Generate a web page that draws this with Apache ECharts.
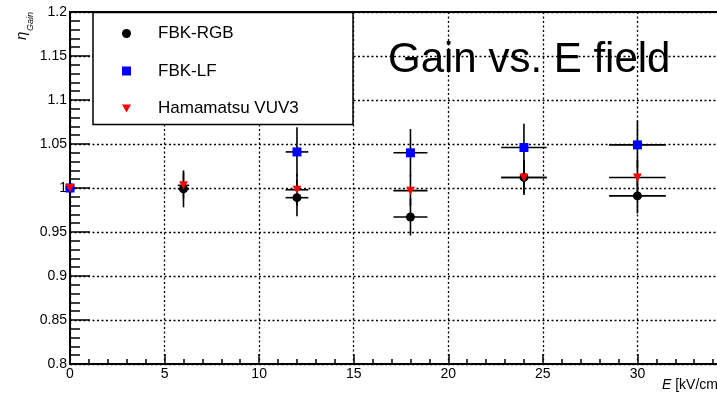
<!DOCTYPE html>
<html>
<head>
<meta charset="utf-8">
<script src="https://cdn.jsdelivr.net/npm/echarts@6/dist/echarts.min.js"></script>
<style>
html,body{margin:0;padding:0;background:#fff;}
#chart{width:717px;height:397px;}
</style>
</head>
<body>
<div id="chart"></div>
<script>
// ---- data ----
var energies = [0, 6, 12, 18, 24, 30];          // E [kV/cm]
var energyErr = [0, 0.3, 0.6, 0.9, 1.2, 1.5];   // x error
var rgbGain = [1.0, 0.999, 0.989, 0.967, 1.012, 0.991];
var rgbErr  = [0, 0.021, 0.021, 0.021, 0.020, 0.020];
var lfGain  = [1.0, null, 1.041, 1.040, 1.046, 1.049];
var lfErr   = [0, null, 0.028, 0.027, 0.027, 0.027];
var vuvGain = [1.0, 1.003, 0.998, 0.997, 1.012, 1.012];
var vuvErr  = [0, 0.015, 0.018, 0.018, 0.018, 0.020];
var seriesNames = ['FBK-RGB', 'FBK-LF', 'Hamamatsu VUV3'];
var xTicks = [0, 5, 10, 15, 20, 25, 30, 35];
var yTicks = ['0.8', '0.85', '0.9', '0.95', '1', '1.05', '1.1', '1.15', '1.2'];

var FONT = '"Liberation Sans", Arial, Helvetica, sans-serif';

function build(vals, errs) {
  var pts = [], bars = [];
  for (var i = 0; i < energies.length; i++) {
    if (vals[i] === null) continue;
    pts.push([energies[i], vals[i]]);
    bars.push([energies[i], vals[i], energyErr[i], errs[i]]);
  }
  return {pts: pts, bars: bars};
}
var rgb = build(rgbGain, rgbErr);
var lf = build(lfGain, lfErr);
var vuv = build(vuvGain, vuvErr);

function renderErr(params, api) {
  var x = api.value(0), y = api.value(1), ex = api.value(2), ey = api.value(3);
  var l = api.coord([x - ex, y]), r = api.coord([x + ex, y]);
  var t = api.coord([x, y + ey]), b = api.coord([x, y - ey]);
  var st = {stroke: '#000', lineWidth: 1.6};
  return {type: 'group', children: [
    {type: 'line', shape: {x1: l[0], y1: l[1], x2: r[0], y2: r[1]}, style: st},
    {type: 'line', shape: {x1: t[0], y1: t[1], x2: b[0], y2: b[1]}, style: st}
  ]};
}

var triDown = 'path://M0,0 L10,0 L5,9 Z';

var chart = echarts.init(document.getElementById('chart'), null, {renderer: 'canvas'});
var gridLine = {show: true, lineStyle: {color: '#000', width: 1.3, type: [2, 2.5]}};
chart.setOption({
  backgroundColor: '#fff',
  animation: false,
  textStyle: {fontFamily: FONT},
  grid: {left: 70, right: -15, top: 12, bottom: 33, show: true,
         containLabel: false, outerBoundsMode: 'none',
         borderColor: '#000', borderWidth: 2, backgroundColor: 'transparent'},
  xAxis: {
    type: 'value', min: xTicks[0], max: xTicks[xTicks.length - 1], interval: 5,
    axisLine: {show: true, onZero: false, lineStyle: {color: '#000', width: 2}},
    axisTick: {show: true, inside: true, length: 10, lineStyle: {color: '#000', width: 1.5}},
    minorTick: {show: true, splitNumber: 5, length: 5, lineStyle: {color: '#000', width: 1.5}},
    axisLabel: {color: '#000', fontSize: 14, margin: 3, fontFamily: FONT},
    splitLine: gridLine
  },
  yAxis: {
    type: 'value', min: 0.8, max: 1.2, interval: 0.05,
    axisLine: {show: true, onZero: false, lineStyle: {color: '#000', width: 2}},
    axisTick: {show: true, inside: true, length: 20, lineStyle: {color: '#000', width: 1.5}},
    minorTick: {show: true, splitNumber: 5, length: 10, lineStyle: {color: '#000', width: 1.5}},
    axisLabel: {color: '#000', fontSize: 14, margin: 3, fontFamily: FONT,
      formatter: function (v) { return yTicks[Math.round((v - 0.8) / 0.05)]; }},
    splitLine: gridLine
  },
  legend: {
    data: seriesNames, orient: 'vertical', left: 117, top: 20, itemGap: 20.5,
    itemWidth: 9, itemHeight: 9, z: 20,
    itemStyle: {opacity: 1},
    textStyle: {color: '#000', fontSize: 17, fontFamily: FONT, padding: [0, 0, 0, 22]}
  },
  graphic: [
    {type: 'rect', z: 15, shape: {x: 93, y: 12.5, width: 260, height: 112},
     style: {fill: '#fff', stroke: '#000', lineWidth: 1.5}},
    {type: 'text', z: 15, x: 388, y: 60,
     style: {text: 'Gain vs. E field', fontSize: 42, fontFamily: FONT, fill: '#000',
             textVerticalAlign: 'middle'}},
    {type: 'text', z: 15, x: 662, y: 385,
     style: {text: '{i|E} [kV/cm]', fontSize: 14, fontFamily: FONT, fill: '#000',
             textVerticalAlign: 'middle',
             rich: {i: {fontStyle: 'italic', fontSize: 14, fontFamily: FONT}}}},
    {type: 'text', z: 15, x: 22, y: 40, rotation: Math.PI / 2,
     style: {text: '\u03b7', fontSize: 15, fontFamily: FONT, fontStyle: 'italic', fill: '#000',
             textVerticalAlign: 'middle', textAlign: 'left'}},
    {type: 'text', z: 15, x: 30, y: 31, rotation: Math.PI / 2,
     style: {text: 'Gain', fontSize: 9, fontFamily: FONT, fontStyle: 'italic', fill: '#000',
             textVerticalAlign: 'middle', textAlign: 'left'}}
  ],
  series: [
    {name: 'err-rgb', type: 'custom', renderItem: renderErr, data: rgb.bars, clip: false, z: 2},
    {name: 'err-lf', type: 'custom', renderItem: renderErr, data: lf.bars, clip: false, z: 2},
    {name: 'err-vuv', type: 'custom', renderItem: renderErr, data: vuv.bars, clip: false, z: 2},
    {name: seriesNames[0], type: 'scatter', data: rgb.pts, symbol: 'circle', symbolSize: 9,
     itemStyle: {color: '#000', opacity: 1}, clip: false, z: 3},
    {name: seriesNames[1], type: 'scatter', data: lf.pts, symbol: 'rect', symbolSize: 9,
     itemStyle: {color: '#0000ff', opacity: 1}, clip: false, z: 3},
    {name: seriesNames[2], type: 'scatter', data: vuv.pts, symbol: triDown, symbolSize: [9, 8],
     itemStyle: {color: '#ff0000', opacity: 1}, clip: false, z: 3}
  ]
});
</script>
</body>
</html>
